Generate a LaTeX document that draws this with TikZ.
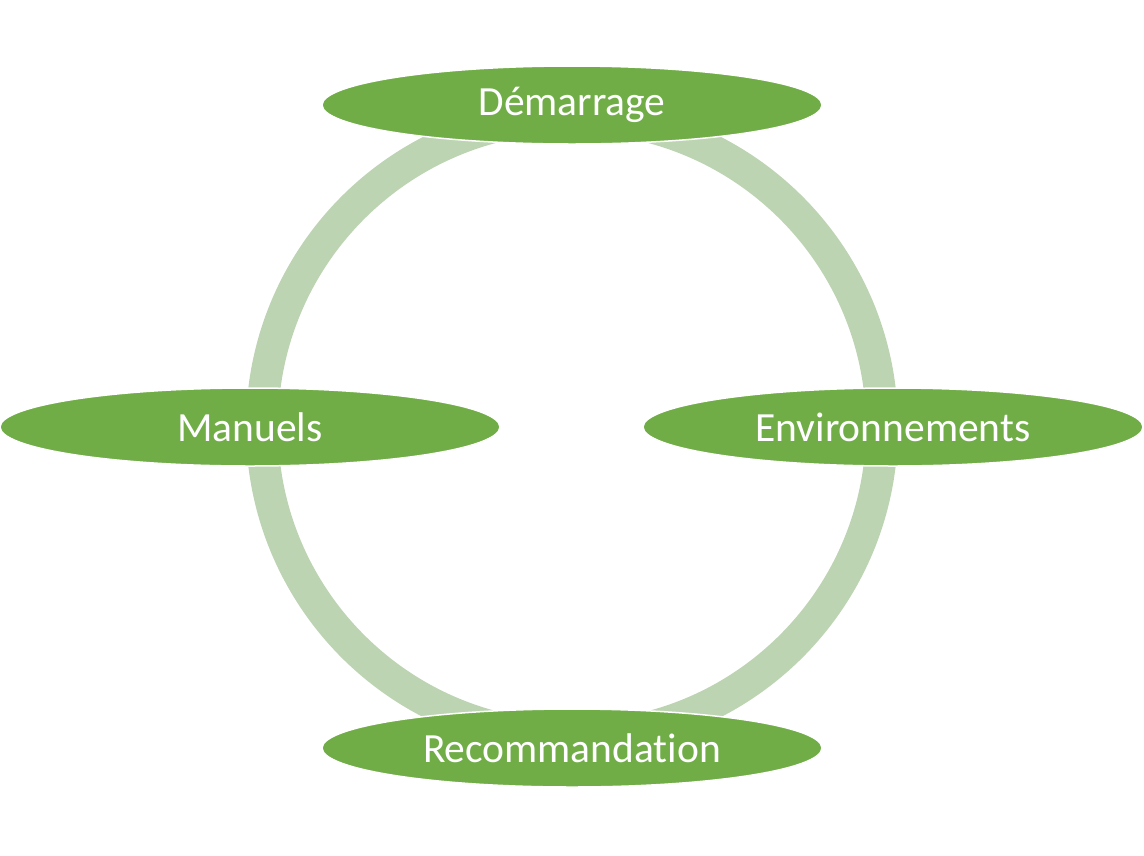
\documentclass[tikz,border=0pt]{standalone}
\usepackage{fontspec}
\setmainfont[RawFeature={-liga;-clig;-calt;-dlig;-rlig}]{Carlito}
\usetikzlibrary{shapes.geometric}
\definecolor{leaf}{HTML}{70AD47}
\definecolor{pale}{HTML}{BDD4B3}
\begin{document}
\begin{tikzpicture}[x=1pt,y=-1pt,every node/.style={font=\fontsize{41.5}{50}\selectfont,text=white},
	stage/.style={ellipse,fill=leaf,draw=white,line width=1.5pt,minimum width=500pt,minimum height=78pt,inner sep=0pt}]
		\useasboundingbox(0,0)rectangle(1144,855);
		\coordinate(O)at(572,427);
		\draw[pale,line width=32pt](O)circle(310);
		\node[stage](D)at(572,105){Démarrage};
		\node[stage](E)at(893,427){Environnements};
		\node[stage](R)at(572,748){Recommandation};
		\node[stage](M)at(250,427){Manuels};
		\end{tikzpicture}
\end{document}
